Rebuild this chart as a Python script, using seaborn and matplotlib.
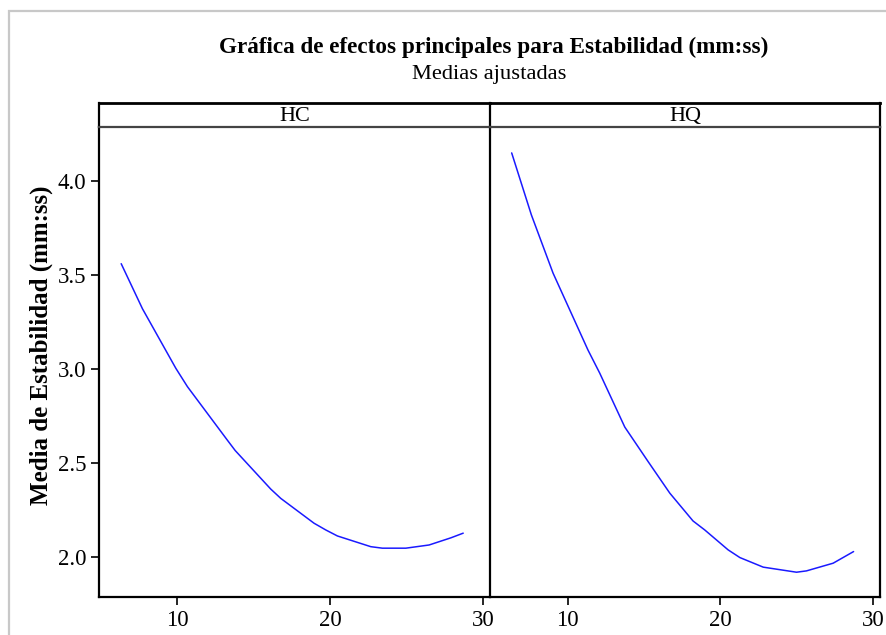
import matplotlib
matplotlib.use("Agg")
import matplotlib.pyplot as plt
import matplotlib.patches as mpatches
import seaborn as sns
import pandas as pd

# ---- data ----
factors = ["HC", "HQ"]
x_hc = [6.35, 7.74, 9.92, 10.68, 13.29, 13.8, 16.12, 16.78, 18.95, 19.72, 20.48, 22.66, 23.42, 24.95, 26.47, 27.89, 28.7]
y_hc = [3.56, 3.32, 3.003, 2.905, 2.62, 2.565, 2.36, 2.31, 2.178, 2.142, 2.11, 2.053, 2.045, 2.045, 2.062, 2.10, 2.125]
x_hq = [6.32, 7.61, 9.03, 11.32, 12.09, 13.73, 15.26, 16.68, 18.2, 18.97, 20.5, 21.27, 22.8, 24.98, 25.63, 27.38, 28.72]
y_hq = [4.15, 3.82, 3.51, 3.10, 2.977, 2.69, 2.506, 2.338, 2.19, 2.142, 2.036, 1.995, 1.944, 1.917, 1.924, 1.965, 2.027]
x_ticks = [10, 20, 30]
y_ticks = [2.0, 2.5, 3.0, 3.5, 4.0]
y_ticklabels = ["2.0", "2.5", "3.0", "3.5", "4.0"]
title = "Gráfica de efectos principales para Estabilidad (mm:ss)"
subtitle = "Medias ajustadas"
ylabel = "Media de Estabilidad (mm:ss)"

df = pd.concat([
    pd.DataFrame({"factor": factors[0], "x": x_hc, "y": y_hc}),
    pd.DataFrame({"factor": factors[1], "x": x_hq, "y": y_hq}),
], ignore_index=True)

sns.set_theme(style="white")
plt.rcParams["font.family"] = ["Liberation Serif", "DejaVu Serif"]
plt.rcParams["text.color"] = "black"
plt.rcParams["xtick.color"] = "black"
plt.rcParams["ytick.color"] = "black"

W, H = 887, 635
fig = plt.figure(figsize=(W / 100, H / 100), dpi=100)
fig.patch.set_facecolor("white")

def fx(px):
    return px / W

def fy(py):
    return 1 - py / H

# outer gray border
fig.patches.append(mpatches.Rectangle((fx(9), fy(700)), fx(900), fy(11) - fy(700),
                                      transform=fig.transFigure, fill=False,
                                      edgecolor="#c8c8c8", linewidth=1.6))

left_px = [99, 490]
right_px = [490, 880]
top_px, bot_px, strip_top_px = 127, 597, 103
TICK_FS = 16.5
axes = []
for i, fac in enumerate(factors):
    ax = fig.add_axes([fx(left_px[i]), fy(bot_px), fx(right_px[i] - left_px[i]), fy(top_px) - fy(bot_px)])
    ax.set_facecolor("none")
    sub = df[df["factor"] == fac]
    sns.lineplot(data=sub, x="x", y="y", ax=ax, color="#1a1aff", linewidth=1.1,
                 estimator=None, sort=False)
    ax.set_xlim(4.9, 30.45)
    ax.set_ylim(1.785, 4.288)
    ax.set_xticks(x_ticks)
    ax.set_xticklabels([str(t) for t in x_ticks], fontsize=TICK_FS)
    ax.set_xlabel("")
    ax.set_ylabel("")
    ax.tick_params(axis="x", direction="out", length=6, width=1.2, color="black", pad=3, bottom=True)
    for s in ax.spines.values():
        s.set_color("black")
        s.set_linewidth(1.6)
    ax.spines["top"].set_visible(False)
    if i == 0:
        ax.set_yticks(y_ticks)
        ax.set_yticklabels(y_ticklabels, fontsize=TICK_FS)
        ax.tick_params(axis="y", direction="out", length=6, width=1.2, color="black", pad=3, left=True)
        ax.spines["right"].set_linewidth(1.6)
    else:
        ax.set_yticks([])
        ax.spines["left"].set_visible(False)
    axes.append(ax)

    # strip
    sax = fig.add_axes([fx(left_px[i]), fy(top_px), fx(right_px[i] - left_px[i]), fy(strip_top_px) - fy(top_px)])
    sax.set_xticks([])
    sax.set_yticks([])
    sax.set_facecolor("none")
    for s in sax.spines.values():
        s.set_color("black")
        s.set_linewidth(1.6)
    sax.spines["top"].set_linewidth(2.0)
    sax.spines["bottom"].set_color("#444444")
    if i == 1:
        sax.spines["left"].set_visible(False)
    sax.text(0.5, 0.45, fac, ha="center", va="center", fontsize=16, transform=sax.transAxes)

fig.text(fx(494), fy(47), title, ha="center", va="center", fontsize=16.7, fontweight="bold")
fig.text(fx(489), fy(74), subtitle, ha="center", va="center", fontsize=16.2)
fig.text(fx(41), fy(345), ylabel, ha="center", va="center", rotation=90, fontsize=18, fontweight="bold")

fig.savefig("out.png", dpi=100, facecolor="white")
